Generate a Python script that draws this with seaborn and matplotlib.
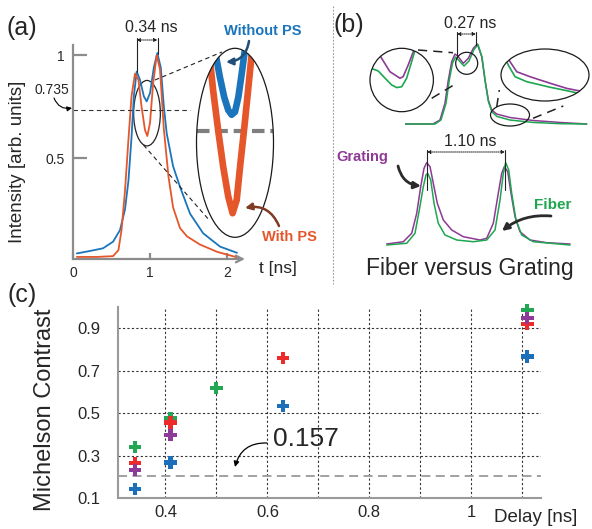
import numpy as np
import pandas as pd
import matplotlib
matplotlib.use('Agg')
import matplotlib.pyplot as plt
import seaborn as sns
from matplotlib.patches import Ellipse

# ---------------------------------------------------------------
#  (a) pulse shape with / without pulse shaping (PS)
# ---------------------------------------------------------------
t_nops = [0.05, 0.22, 0.39, 0.52, 0.61, 0.675, 0.72, 0.76, 0.79, 0.827, 0.87, 0.92,
          0.957, 1.0, 1.05, 1.095, 1.14, 1.18, 1.217, 1.30, 1.39, 1.52, 1.69, 1.91, 2.13]
i_nops = [0.037, 0.049, 0.062, 0.094, 0.15, 0.25, 0.39, 0.60, 0.80, 0.92, 0.88, 0.80,
          0.775, 0.815, 0.94, 1.01, 0.94, 0.75, 0.62, 0.46, 0.36, 0.23, 0.135, 0.07, 0.04]
t_ps = [0.05, 0.31, 0.52, 0.59, 0.63, 0.675, 0.72, 0.76, 0.805, 0.85, 0.89, 0.935,
        0.965, 1.0, 1.04, 1.087, 1.13, 1.18, 1.24, 1.30, 1.39, 1.48, 1.65, 1.87, 2.13]
i_ps = [0.02, 0.02, 0.024, 0.053, 0.15, 0.34, 0.59, 0.80, 0.91, 0.88, 0.75, 0.636,
        0.607, 0.67, 0.86, 1.0, 0.93, 0.64, 0.41, 0.26, 0.16, 0.12, 0.08, 0.045, 0.018]

# zoomed dip (big ellipse)
t_nops_zoom = [0.864, 0.879, 0.897, 0.915, 0.932, 0.946, 0.960, 0.974, 0.988, 0.999, 1.010]
i_nops_zoom = [0.903, 0.871, 0.830, 0.795, 0.772, 0.764, 0.769, 0.795, 0.836, 0.871, 0.903]
t_ps_zoom = [0.843, 0.856, 0.869, 0.890, 0.911, 0.932, 0.950, 0.967, 0.981, 0.999, 1.013, 1.027, 1.039]
i_ps_zoom = [0.912, 0.860, 0.807, 0.737, 0.673, 0.621, 0.592, 0.615, 0.673, 0.743, 0.801, 0.860, 0.912]
level_a = 0.735

# ---------------------------------------------------------------
#  (b) fiber versus grating
# ---------------------------------------------------------------
t_grat_top = [0.0, 0.40, 0.50, 0.571, 0.619, 0.667, 0.714, 0.761, 0.833, 0.904, 0.976, 1.033,
              1.096, 1.143, 1.19, 1.239, 1.31, 1.5, 1.833, 2.214, 2.596]
i_grat_top = [0.0, 0.0, 0.05, 0.256, 0.543, 0.769, 0.864, 0.831, 0.749, 0.811, 0.935, 0.988,
              0.831, 0.543, 0.296, 0.173, 0.123, 0.08, 0.043, 0.019, 0.0]
t_fib_top = [0.0, 0.43, 0.514, 0.586, 0.633, 0.679, 0.721, 0.764, 0.843, 0.914, 0.986, 1.043,
             1.1, 1.147, 1.193, 1.243, 1.314, 1.5, 1.833, 2.214, 2.596]
i_fib_top = [0.0, 0.0, 0.05, 0.256, 0.543, 0.753, 0.827, 0.79, 0.716, 0.778, 0.92, 0.981,
             0.827, 0.519, 0.272, 0.148, 0.093, 0.049, 0.019, 0.004, 0.0]

# zoom on the dip (left circle)
t_grat_dip = [0.764, 0.782, 0.823, 0.873, 0.889, 0.914, 0.939, 0.953]
i_grat_dip = [0.869, 0.842, 0.785, 0.757, 0.764, 0.814, 0.870, 0.912]
t_fib_dip = [0.714, 0.737, 0.765, 0.799, 0.832, 0.857, 0.882, 0.906, 0.931, 0.948, 0.958]
i_fib_dip = [0.805, 0.797, 0.788, 0.757, 0.728, 0.717, 0.721, 0.757, 0.828, 0.878, 0.912]

# zoom on the tail (right ellipse)
t_grat_tail = [1.253, 1.278, 1.321, 1.405, 1.532, 1.638, 1.743, 1.798]
i_grat_tail = [0.231, 0.181, 0.128, 0.102, 0.068, 0.041, 0.024, 0.017]
t_fib_tail = [1.24, 1.267, 1.31, 1.384, 1.532, 1.638, 1.733, 1.798]
i_fib_tail = [0.216, 0.163, 0.102, 0.076, 0.047, 0.029, 0.012, 0.004]

t_grat_bot = [0.01, 0.247, 0.367, 0.439, 0.496, 0.543, 0.581, 0.629, 0.676, 0.733, 0.819, 0.939,
              1.104, 1.343, 1.439, 1.533, 1.604, 1.653, 1.69, 1.739, 1.786, 1.843, 1.914, 2.057,
              2.296, 2.629]
i_grat_bot = [0.012, 0.04, 0.143, 0.387, 0.711, 0.935, 1.004, 0.955, 0.752, 0.509, 0.305, 0.183,
              0.101, 0.061, 0.082, 0.265, 0.63, 0.874, 0.955, 0.894, 0.63, 0.345, 0.162, 0.061,
              0.028, 0.012]
t_fib_bot = [0.01, 0.296, 0.414, 0.476, 0.533, 0.571, 0.596, 0.639, 0.686, 0.747, 0.843, 1.01,
             1.247, 1.439, 1.557, 1.629, 1.676, 1.71, 1.753, 1.796, 1.857, 1.939, 2.104, 2.629]
i_fib_bot = [0.0, 0.021, 0.143, 0.427, 0.711, 0.854, 0.874, 0.793, 0.509, 0.265, 0.122, 0.061,
             0.04, 0.061, 0.183, 0.549, 0.874, 1.004, 0.915, 0.63, 0.305, 0.122, 0.04, 0.0]

# ---------------------------------------------------------------
#  (c) Michelson contrast vs delay
# ---------------------------------------------------------------
delay_green = [0.34, 0.41, 0.50, 1.11]
mc_green = [0.341, 0.477, 0.617, 0.986]
delay_red = [0.34, 0.41, 0.63, 1.11]
mc_red = [0.267, 0.456, 0.758, 0.919]
delay_purple = [0.34, 0.41, 1.11]
mc_purple = [0.232, 0.396, 0.947]
delay_blue = [0.34, 0.41, 0.63, 1.11]
mc_blue = [0.142, 0.268, 0.532, 0.766]
level_c = 0.204          # drawn position of the "0.157" line

# colours
C_BLUE, C_ORANGE = '#1a75bc', '#e5562a'
C_PURPLE, C_GREEN = '#8e3996', '#1ea650'
C_C = {'green': '#22a855', 'red': '#ee2b2b', 'purple': '#8d3a98', 'blue': '#1b70b9'}
GRAY = '#8c8c8c'

sns.set_style('white')
plt.rcParams['font.family'] = ['Liberation Sans', 'DejaVu Sans']

W, H = 592, 529
fig = plt.figure(figsize=(W / 100, H / 100), dpi=100)


def box(x0, y0, x1, y1):
    """pixel box (top-left origin) -> figure fraction rect"""
    return [x0 / W, 1 - y1 / H, (x1 - x0) / W, (y1 - y0) / H]


def line(ax, t, i, color, lw, clip=None):
    sns.lineplot(x=t, y=i, ax=ax, color=color, linewidth=lw, sort=False,
                 estimator=None, legend=False)
    ln = ax.lines[-1]
    ln.set_solid_joinstyle('round'); ln.set_solid_capstyle('round')
    if clip is not None:
        ln.set_clip_path(clip)
    return ln


def ellipse_clip(ax):
    e = Ellipse((0.5, 0.5), 1, 1, transform=ax.transAxes, facecolor='none', edgecolor='none')
    ax.add_patch(e)
    return e


# ======================= (a) =======================
ax_a = fig.add_axes(box(73, 45, 245, 259))
line(ax_a, t_nops, i_nops, C_BLUE, 1.3)
line(ax_a, t_ps, i_ps, C_ORANGE, 1.3)
ax_a.hlines(level_a, 0, 1.52, color='#333333', lw=0.8, linestyles=(0, (4, 3)))
ax_a.add_patch(Ellipse((0.961, 0.718), 0.347, 0.318, facecolor='none', edgecolor='#222222', lw=0.9))
ax_a.set_xlim(0, 172 / 77)
ax_a.set_ylim(0.01, 1.049)
for s in ['top', 'right', 'bottom']:
    ax_a.spines[s].set_visible(False)
ax_a.spines['left'].set_color(GRAY); ax_a.spines['left'].set_linewidth(1.6)
ax_a.annotate('', xy=(1, 0), xytext=(0, 0), xycoords='axes fraction',
              arrowprops=dict(arrowstyle='->', color=GRAY, lw=1.6, shrinkA=0, shrinkB=0,
                              mutation_scale=12))
ax_a.set_yticks([0.5, 1]); ax_a.set_yticklabels(['0.5', '1'])
ax_a.set_xticks([0, 1, 2]); ax_a.set_xticklabels(['0', '1', '2'])
ax_a.tick_params(axis='y', direction='in', length=10, width=1.6, color=GRAY, pad=6, labelsize=10)
ax_a.tick_params(axis='x', direction='in', length=4, width=1.6, color=GRAY, pad=5, labelsize=10)
ax_a.tick_params(left=True, bottom=True)

ins_a = fig.add_axes(box(196.5, 48.3, 273.5, 237.3))
ins_a.set_xlim(0.80, 1.12); ins_a.set_ylim(0.55, 0.88); ins_a.axis('off')
clip_a = ellipse_clip(ins_a)
ln = ins_a.axhline(level_a, color='#7f7f7f', lw=3, linestyle=(0, (3, 1.4)))
ln.set_clip_path(clip_a)
line(ins_a, t_ps_zoom, i_ps_zoom, C_ORANGE, 4.8, clip_a)
line(ins_a, t_nops_zoom, i_nops_zoom, C_BLUE, 4.8, clip_a)

# ======================= (b) =======================
ax_bu = fig.add_axes(box(405, 30, 590, 130))
line(ax_bu, t_grat_top, i_grat_top, C_PURPLE, 1.1)
line(ax_bu, t_fib_top, i_fib_top, C_GREEN, 1.1)
ax_bu.set_xlim(0, 185 / 70); ax_bu.set_ylim(-6 / 81, 94 / 81); ax_bu.axis('off')

ins_bl = fig.add_axes(box(370, 48.3, 433.4, 111.7))
ins_bl.set_xlim(0.724, 1.039); ins_bl.set_ylim(0.614, 0.885); ins_bl.axis('off')
clip_bl = ellipse_clip(ins_bl)
line(ins_bl, t_grat_dip, i_grat_dip, C_PURPLE, 1.2, clip_bl)
line(ins_bl, t_fib_dip, i_fib_dip, C_GREEN, 1.2, clip_bl)

ins_br = fig.add_axes(box(501, 49, 589, 101))
ins_br.set_xlim(1.221, 1.779); ins_br.set_ylim(-0.025, 0.247); ins_br.axis('off')
clip_br = ellipse_clip(ins_br)
line(ins_br, t_grat_tail, i_grat_tail, C_PURPLE, 1.2, clip_br)
line(ins_br, t_fib_tail, i_fib_tail, C_GREEN, 1.2, clip_br)

ax_bd = fig.add_axes(box(386, 140, 580, 250))
line(ax_bd, t_grat_bot, i_grat_bot, C_PURPLE, 1.1)
line(ax_bd, t_fib_bot, i_fib_bot, C_GREEN, 1.1)
ax_bd.set_xlim(0, 194 / 70); ax_bd.set_ylim(-5 / 82, 105 / 82); ax_bd.axis('off')

# ======================= (c) =======================
ax_c = fig.add_axes(box(118.3, 306.7, 540.7, 498.3))
df = pd.concat([
    pd.DataFrame({'delay': delay_green, 'contrast': mc_green, 'series': 'green'}),
    pd.DataFrame({'delay': delay_red, 'contrast': mc_red, 'series': 'red'}),
    pd.DataFrame({'delay': delay_purple, 'contrast': mc_purple, 'series': 'purple'}),
    pd.DataFrame({'delay': delay_blue, 'contrast': mc_blue, 'series': 'blue'}),
], ignore_index=True)
ax_c.axhline(level_c, color='#9a9a9a', lw=1.3, linestyle=(0, (5, 3)), zorder=1)
sns.scatterplot(data=df, x='delay', y='contrast', hue='series', palette=C_C, marker='P',
                s=78, linewidth=0, legend=False, ax=ax_c, zorder=3, clip_on=False)
ax_c.set_xlim(0.3076, 1.136); ax_c.set_ylim(0.1, 1.0)
ax_c.set_xticks([0.4, 0.6, 0.8, 1.0]); ax_c.set_xticklabels(['0.4', '0.6', '0.8', '1'])
ax_c.set_xticks([0.5, 0.7, 0.9, 1.1], minor=True)
ax_c.set_yticks([0.1, 0.3, 0.5, 0.7, 0.9])
ax_c.set_yticklabels(['0.1', '0.3', '0.5', '0.7', '0.9'])
ax_c.grid(True, axis='x', which='both', color='#333333', lw=0.8, linestyle=(0, (2, 2)))
ax_c.grid(True, axis='y', which='major', color='#333333', lw=0.8, linestyle=(0, (2, 2)))
ax_c.set_axisbelow(True)
ax_c.tick_params(which='both', length=0, labelsize=12)
ax_c.tick_params(axis='y', pad=13); ax_c.tick_params(axis='x', pad=5)
ax_c.set_xlabel(''); ax_c.set_ylabel('')
for s in ['top', 'right']:
    ax_c.spines[s].set_visible(False)
for s in ['left', 'bottom']:
    ax_c.spines[s].set_color('#9a9a9a'); ax_c.spines[s].set_linewidth(1.5)

# ======================= annotations (pixel overlay) =======================
ov = fig.add_axes([0, 0, 1, 1], zorder=10)
ov.set_xlim(0, W); ov.set_ylim(H, 0); ov.axis('off')


def txt(x, y, s, size, **kw):
    ov.text(x, y, s, fontsize=size, ha=kw.pop('ha', 'center'), va=kw.pop('va', 'center'), **kw)


def arrow(start, tip, rad, color='k', lw=1.0, ms=10):
    ov.annotate('', xy=tip, xytext=start,
                arrowprops=dict(arrowstyle='-|>', connectionstyle=f'arc3,rad={rad}',
                                color=color, lw=lw, mutation_scale=ms, shrinkA=0, shrinkB=0))


def bracket(xl, xr, y_top, yl, yr):
    ov.plot([xl, xl], [y_top - 2, yl], color='#222222', lw=0.8)
    ov.plot([xr, xr], [y_top - 2, yr], color='#222222', lw=0.8)
    ov.annotate('', xy=(xr, y_top), xytext=(xl, y_top),
                arrowprops=dict(arrowstyle='<|-|>', linestyle=(0, (1, 1)), lw=0.7,
                                color='#222222', mutation_scale=5, shrinkA=0, shrinkB=0))


def ring(cx, cy, w, h, lw=0.9):
    ov.add_patch(Ellipse((cx, cy), w, h, facecolor='none', edgecolor='#1a1a1a', lw=lw))


def dash(p, q, pattern=(0, (4, 3)), lw=0.8):
    ov.plot([p[0], q[0]], [p[1], q[1]], color='#222222', lw=lw, linestyle=pattern)


# panel letters
txt(22, 28, '(a)', 18)
txt(349, 25, '(b)', 18)
txt(22, 295, '(c)', 18)
ov.plot([332.5, 332.5], [6, 284], color='#9a9a9a', lw=0.8, linestyle=(0, (1.5, 1.5)))

# (a)
txt(18, 162, 'Intensity [arb. units]', 13.5, rotation=90)
txt(278, 268, 't [ns]', 12.5)
txt(151, 27, '0.34 ns', 11.5)
bracket(136.5, 157.5, 40, 72, 54)
txt(52, 90, '0.735', 10)
arrow((54, 98), (72, 108), 0.4, lw=0.8, ms=7)
ring(235, 142.8, 77, 189)
dash((155, 80), (222, 52))
dash((143.5, 145), (210, 221))
txt(263, 31, 'Without PS', 10.5, color=C_BLUE, fontweight='bold')
arrow((249, 41), (226, 62), -0.4, color='#1f4f78', lw=1.8, ms=10)
txt(289, 237, 'With PS', 10.5, color=C_ORANGE, fontweight='bold')
arrow((279, 226), (245, 208), 0.4, color='#7f3b24', lw=1.8, ms=10)

# (b)
txt(470, 24, '0.27 ns', 11.5)
bracket(457, 476, 34, 55, 45)
ring(401.7, 80, 63.4, 63.4)
ring(466.7, 63.3, 22, 22)
ring(545, 75, 88, 52)
ring(510, 115, 39, 22)
dash((418, 50), (453, 52.7), (0, (6, 4)), 1.1)
dash((431.7, 98.3), (457, 83), (0, (6, 4)), 1.1)
dash((496.7, 107), (499.3, 90), (0, (6, 4)), 1.1)
dash((533, 118.3), (563.3, 106), (0, (6, 4)), 1.1)
txt(470, 142, '1.10 ns', 11.5)
bracket(427, 505, 152, 190, 190)
txt(362, 157, 'Grating', 10.5, color=C_PURPLE, fontweight='bold')
arrow((398, 166), (421, 186), 0.35, color='#2b2b2b', lw=2, ms=10)
txt(553, 205, 'Fiber', 11, color=C_GREEN, fontweight='bold')
arrow((551, 216), (502, 231), 0.2, color='#2b2b2b', lw=2, ms=10)
txt(470, 268, 'Fiber versus Grating', 16.5)

# (c)
txt(45, 410, 'Michelson Contrast', 17, rotation=90)
txt(536, 518, 'Delay [ns]', 13.5)
txt(306, 439, '0.157', 19)
arrow((267, 443), (235, 467), 0.4, lw=0.9, ms=8)

fig.savefig('out.png', dpi=100)
